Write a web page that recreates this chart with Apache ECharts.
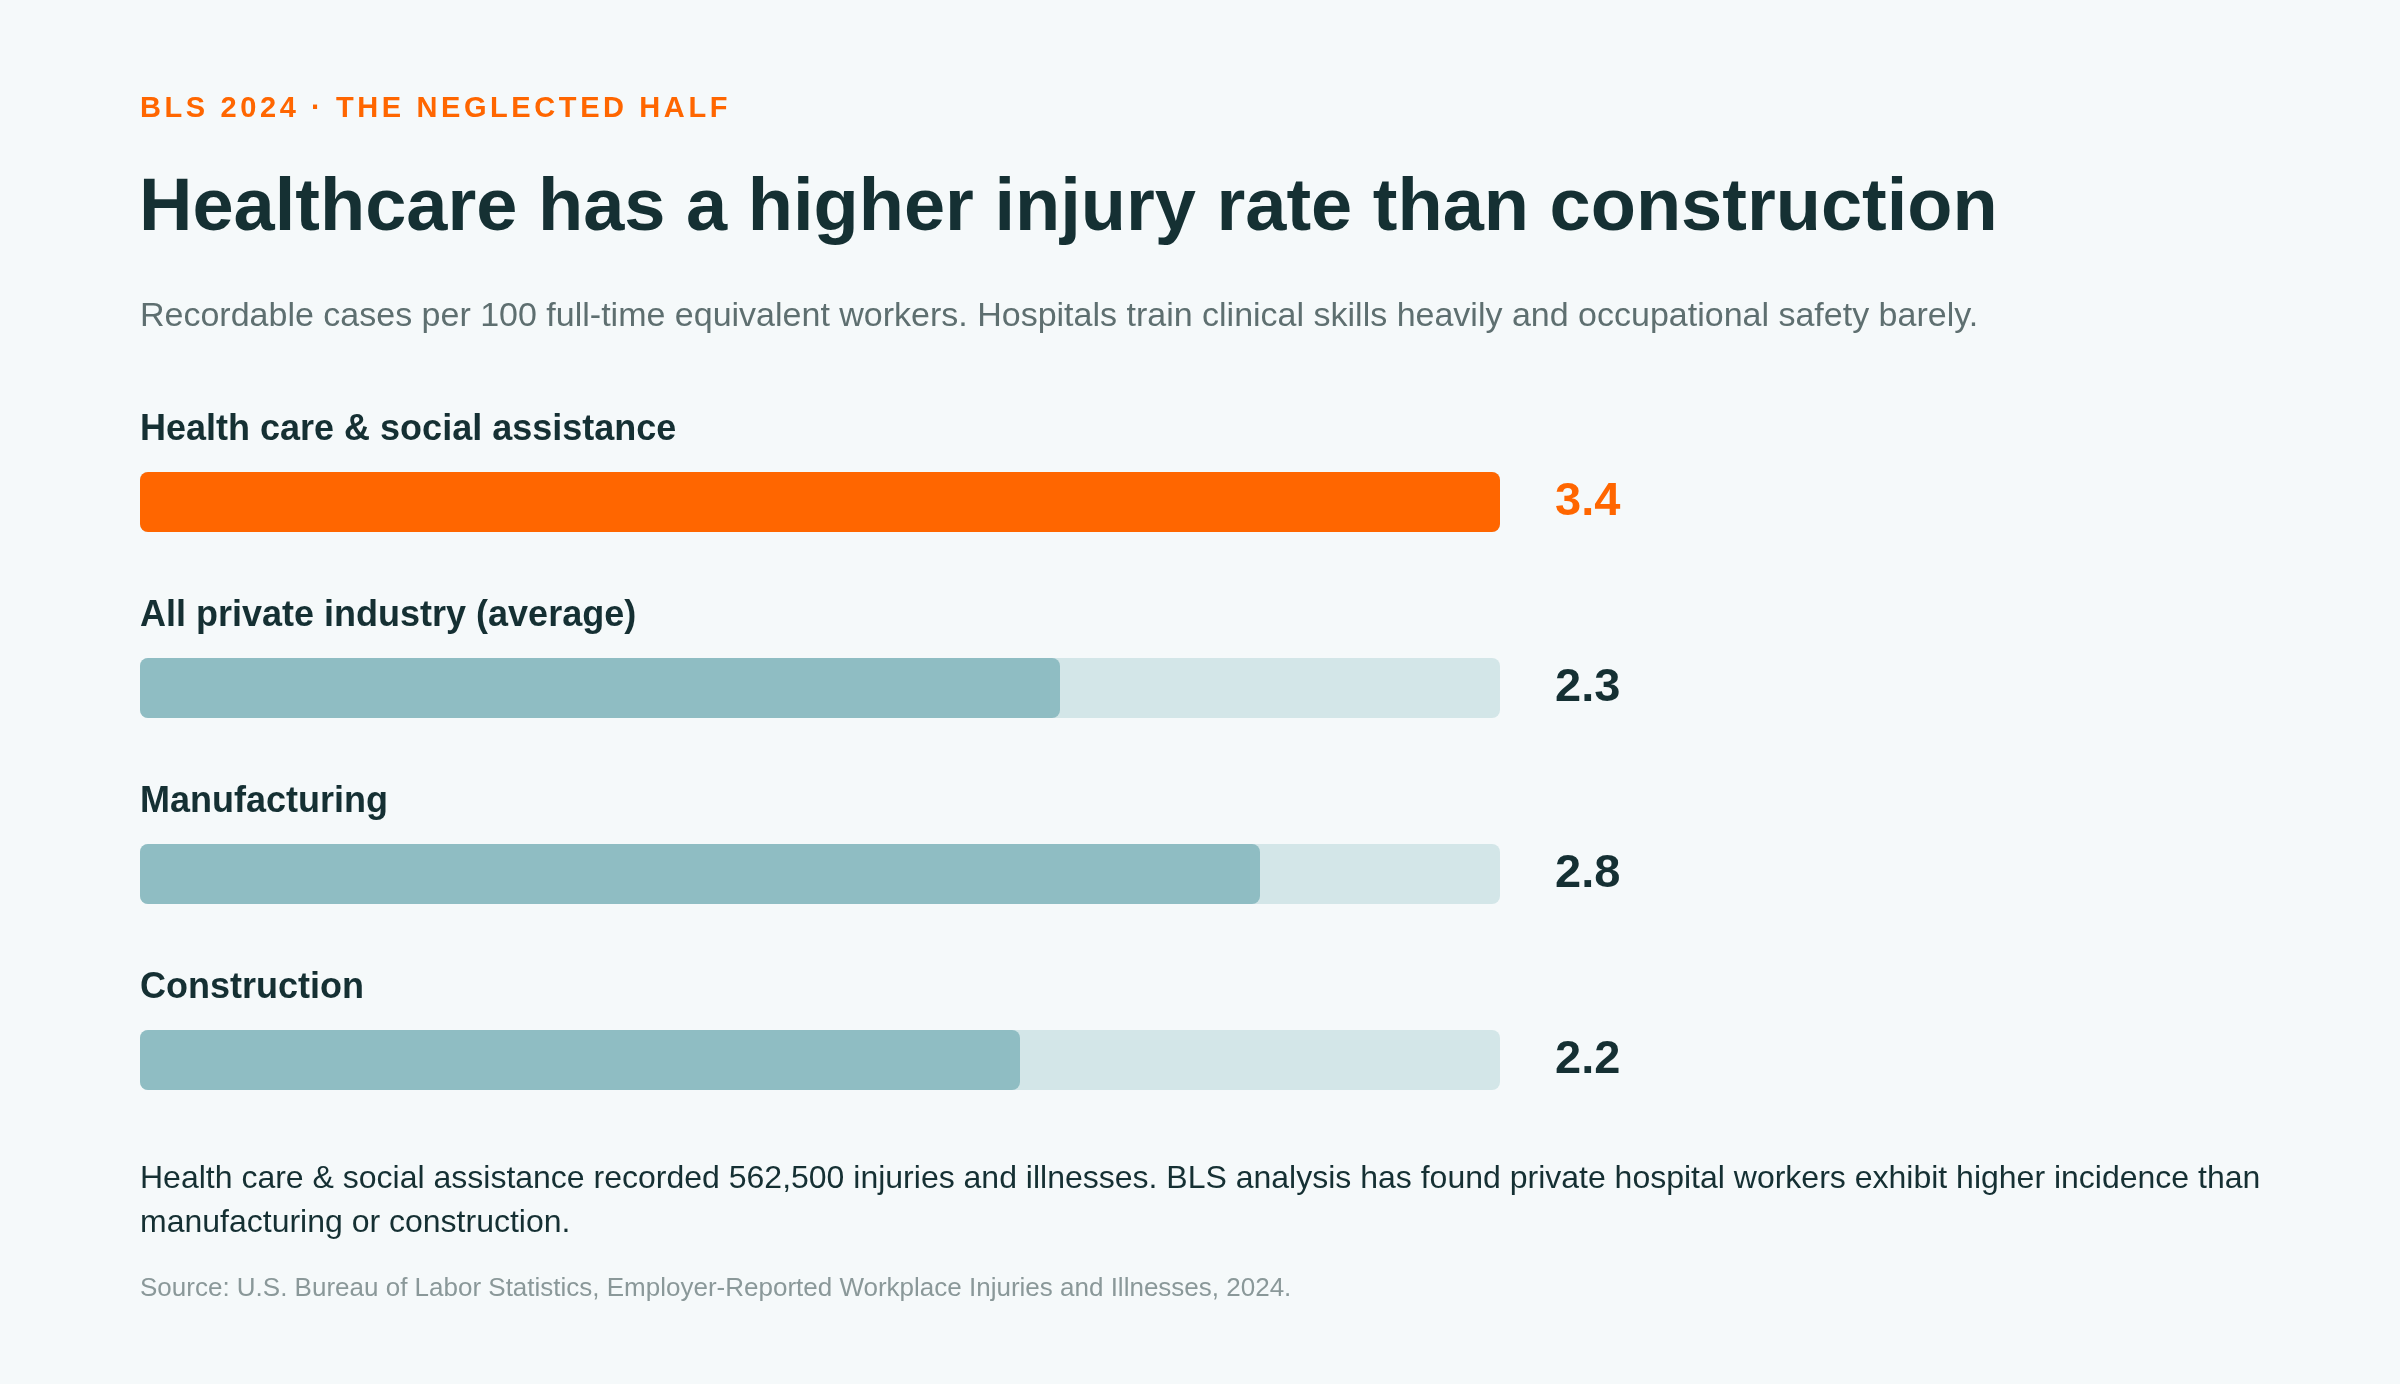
<!DOCTYPE html>
<html>
<head>
<meta charset="utf-8">
<script src="https://cdn.jsdelivr.net/npm/echarts@6/dist/echarts.min.js"></script>
<style>
  html, body { margin: 0; padding: 0; background: #F5F9FA; }
  #chart { width: 2400px; height: 1384px; }
</style>
</head>
<body>
<div id="chart"></div>
<script>
const eyebrow = 'BLS 2024 · THE NEGLECTED HALF';
const titleText = 'Healthcare has a higher injury rate than construction';
const subtitleText = 'Recordable cases per 100 full-time equivalent workers. Hospitals train clinical skills heavily and occupational safety barely.';
const footnoteText = 'Health care & social assistance recorded 562,500 injuries and illnesses. BLS analysis has found private hospital workers exhibit higher incidence than\nmanufacturing or construction.';
const sourceText = 'Source: U.S. Bureau of Labor Statistics, Employer-Reported Workplace Injuries and Illnesses, 2024.';

const categories = ['Health care & social assistance', 'All private industry (average)', 'Manufacturing', 'Construction'];
const rates = [3.4, 2.3, 2.8, 2.2];
const valueLabels = ['3.4', '2.3', '2.8', '2.2'];
const highlightIndex = 0;
const axisMax = 3.4;

const FONT = '"Liberation Sans", Arial, Helvetica, sans-serif';
const ORANGE = '#FF6600';
const TEAL = '#8FBDC3';
const TRACK = '#D3E6E8';
const DARK = '#153033';
const EYEBROW_ZLEVEL = 3;

const chart = echarts.init(document.getElementById('chart'), null, { width: 2400, height: 1384 });

// letter-spaced eyebrow drawn on its own canvas layer
try {
  const painter = chart.getZr().painter;
  if (painter && painter.getLayer) {
    const layer = painter.getLayer(EYEBROW_ZLEVEL);
    if (layer && layer.ctx) layer.ctx.letterSpacing = '3.6px';
  }
} catch (e) {}

const option = {
  backgroundColor: '#F5F9FA',
  animation: false,
  grid: { left: 140, right: 900, top: 409, bottom: 231, containLabel: false },
  xAxis: { type: 'value', min: 0, max: axisMax, show: false },
  yAxis: [
    { type: 'category', data: categories, inverse: true, show: false },
    {
      type: 'category', data: valueLabels, inverse: true, position: 'right',
      axisLine: { show: false }, axisTick: { show: false }, splitLine: { show: false },
      axisLabel: {
        show: true, margin: 55, align: 'left',
        fontFamily: FONT, fontSize: 47, fontWeight: 'bold',
        color: (v, i) => i === highlightIndex ? ORANGE : DARK
      }
    }
  ],
  series: [{
    type: 'bar',
    yAxisIndex: 0,
    barWidth: 60,
    showBackground: true,
    backgroundStyle: { color: TRACK, borderRadius: 8 },
    data: rates.map((v, i) => ({ value: v, itemStyle: { color: i === highlightIndex ? ORANGE : TEAL, borderRadius: 8 } })),
    label: {
      show: true, position: [0, -42], align: 'left', verticalAlign: 'middle',
      formatter: '{b}', fontFamily: FONT, fontSize: 36, fontWeight: 'bold', color: DARK
    },
    emphasis: { disabled: true }
  }],
  graphic: [
    { type: 'text', zlevel: EYEBROW_ZLEVEL, x: 140, y: 109, style: { text: eyebrow, fill: ORANGE, font: 'bold 29px ' + FONT, verticalAlign: 'middle' } },
    { type: 'text', x: 139, y: 210, style: { text: titleText, fill: DARK, font: 'bold 74px ' + FONT, verticalAlign: 'middle' } },
    { type: 'text', x: 140, y: 317, style: { text: subtitleText, fill: '#5E6F70', font: '34px ' + FONT, verticalAlign: 'middle' } },
    { type: 'text', x: 140, y: 1201, style: { text: footnoteText, fill: DARK, font: '32px ' + FONT, lineHeight: 44, verticalAlign: 'middle' } },
    { type: 'text', x: 140, y: 1289, style: { text: sourceText, fill: '#8A9899', font: '26px ' + FONT, verticalAlign: 'middle' } }
  ]
};
chart.setOption(option);
</script>
</body>
</html>
